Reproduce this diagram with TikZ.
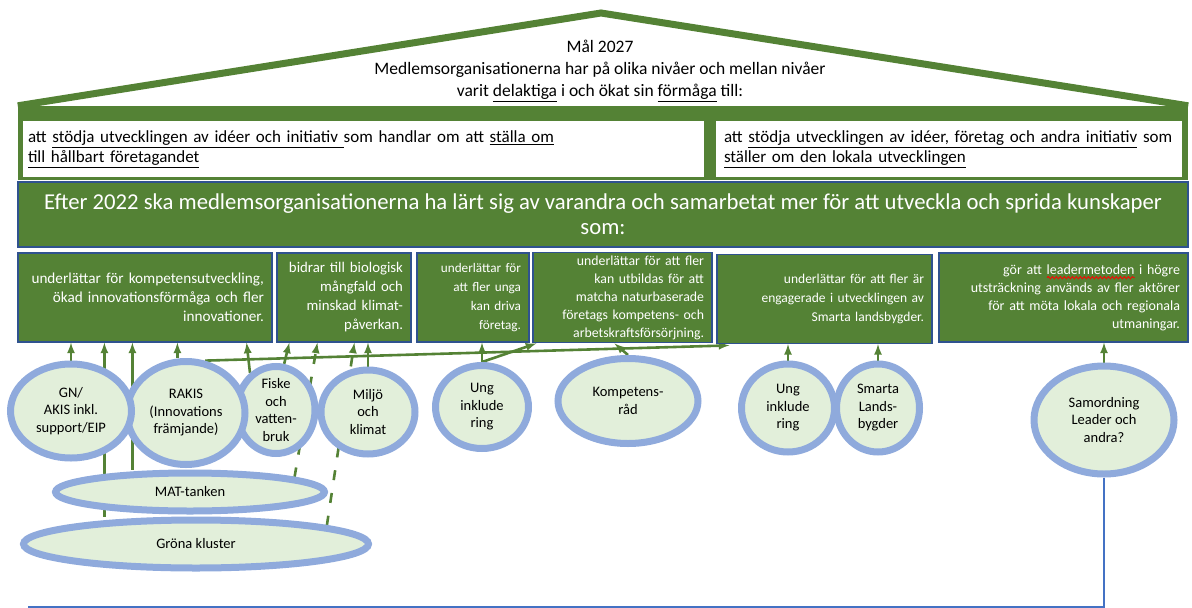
\documentclass[tikz,border=0pt]{standalone}
\usepackage{fontspec}
\setmainfont{Carlito}
\usepackage{tikz}
\usetikzlibrary{shapes.geometric}
\usetikzlibrary{arrows}
\usetikzlibrary{decorations.pathmorphing}
\definecolor{leafgreen}{RGB}{84,130,53}
\definecolor{edgeblue}{RGB}{47,82,143}
\definecolor{ringblue}{RGB}{143,170,220}
\definecolor{palegreen}{RGB}{226,239,218}
\definecolor{lineblue}{RGB}{68,114,196}
\pgfdeclarelayer{bg}
\pgfsetlayers{bg,main}
\newcommand\ul[1]{\underline{#1}}
\newcommand\redwave[1]{\setbox0\hbox{#1}\rlap{\tikz[baseline=0pt]\draw[red, line width=0.8pt, decorate, decoration={snake, amplitude=1.2pt, segment length=4pt}] (0pt,-3.5pt) -- (\wd0,-3.5pt);}\box0\relax}

\begin{document}
\begin{tikzpicture}
		[x=1pt, y=-1pt,
		 goal/.style = {fill=white, align=left, inner xsep=5pt, minimum height=56pt, font=\fontsize{17}{20}\selectfont},
		 effect/.style = {draw=edgeblue, line width=1.2pt, fill=leafgreen, text=white, align=right, inner xsep=8pt, minimum height=89pt, text width=#1, font=\fontsize{13.5}{19}\selectfont},
		 actor/.style = {ellipse, draw=ringblue, line width=7pt, fill=palegreen, inner sep=-14pt, align=center, font=\fontsize{14.5}{17.5}\selectfont},
		 arr/.style = {draw=leafgreen, line width=2.6pt, -latex},
		 dashedarr/.style = {arr, dash pattern=on 10pt off 13pt}]
        \useasboundingbox (0,0) rectangle (1192,608);

        \node[fill=leafgreen, minimum width=1170pt, minimum height=74pt, inner sep=0pt] (roofbase) at (603,143) {};
        \coordinate (apex) at (601,13);
        \draw[leafgreen, line width=7pt, line join=miter] (roofbase.north west) -- (apex) -- (roofbase.north east);
        \node[goal, text width=671pt] (goalL) at (363.5,149) {att \ul{stödja utvecklingen av idéer och initiativ }som handlar om att \ul{ställa om}\\ \ul{till hållbart företagandet}};
        \node[goal, inner xsep=8pt, text width=450pt] (goalR) at (949,149) {att \ul{stödja utvecklingen av idéer, företag och andra initiativ} som\\ \ul{ställer om den lokala utvecklingen}};
        \node[align=center, font=\fontsize{17.5}{22}\selectfont] (title) at (600,71) {Mål 2027\\ Medlemsorganisationerna har på olika nivåer och mellan nivåer\\ varit \ul{delaktiga} i och ökat sin \ul{förmåga} till:};

        \node[draw=edgeblue, line width=1.2pt, fill=leafgreen, text=white, align=center, minimum width=1170pt, minimum height=65pt, font=\fontsize{22.7}{25}\selectfont] (learn) at (603,214.5) {Efter 2022 ska medlemsorganisationerna ha lärt sig av varandra och samarbetat mer för att utveckla och sprida kunskaper\\ som:};

        \node[effect=238pt, font=\fontsize{15.2}{19}\selectfont] (b1) at (145,297.5) {underlättar för kompetensutveckling,\\ ökad innovationsförmåga och fler\\ innovationer.};
        \node[effect=118pt, font=\fontsize{14.8}{19}\selectfont] (b2) at (344,297.5) {bidrar till biologisk\\ mångfald och\\ minskad klimat-\\ påverkan.};
        \node[effect=96pt, font=\fontsize{13.2}{19}\selectfont] (b3) at (473,297.5) {underlättar för\\ att fler unga\\ kan driva\\ företag.};
        \node[effect=163pt, font=\fontsize{13.8}{18}\selectfont] (b4) at (622.5,297.5) {underlättar för att fler\\ kan utbildas för att\\ matcha naturbaserade\\ företags kompetens- och\\ arbetskraftsförsörjning.};
        \node[effect=199pt] (b5) at (824.5,299) {underlättar för att fler är\\ engagerade i utvecklingen av\\ Smarta landsbygder.};
        \node[effect=233pt, font=\fontsize{14}{18}\selectfont] (b6) at (1063.5,297.5) {gör att \redwave{leadermetoden} i högre\\ utsträckning används av fler aktörer\\ för att möta lokala och regionala\\ utmaningar.};

        \node[actor, minimum width=78pt, minimum height=87pt] (fiske) at (276,410) {Fiske\\ och\\ vatten-\\ bruk};
        \node[actor, minimum width=118pt, minimum height=103pt] (rakis) at (186,413) {RAKIS\\ (Innovations\\ främjande)};
        \node[actor, minimum width=121pt, minimum height=94pt] (gn) at (71,411) {GN/\\ AKIS inkl.\\ support/EIP};
        \node[actor, minimum width=94pt, minimum height=84pt] (miljo) at (368,412) {Miljö\\ och\\ klimat};
        \node[actor, minimum width=269pt, minimum height=38pt] (mat) at (190,492) {MAT-tanken};
        \node[actor, minimum width=345pt, minimum height=48pt] (gron) at (196,544) {Gröna kluster};
        \node[actor, minimum width=93pt, minimum height=83pt] (ung1) at (482,407) {Ung\\ inklude\\ ring};
        \node[actor, minimum width=140pt, minimum height=85pt] (komp) at (628,401) {Kompetens-\\ råd};
        \node[actor, minimum width=93pt, minimum height=88pt] (ung2) at (788,408) {Ung\\ inklude\\ ring};
        \node[actor, minimum width=83pt, minimum height=88pt] (smarta) at (878,408) {Smarta\\ Lands-\\ bygder};
        \node[actor, minimum width=140pt, minimum height=108pt] (samord) at (1104,420) {Samordning\\ Leader och\\ andra?};

        \coordinate (b1s2) at ([xshift=87pt]b1.south west);
        \coordinate (b1s3) at ([xshift=115pt]b1.south west);
        \coordinate (b1s4) at ([xshift=160pt]b1.south west);
        \coordinate (b1s5) at ([xshift=-26pt]b1.south east);
        \coordinate (b2s1) at ([xshift=13pt]b2.south west);
        \coordinate (b2s2) at ([xshift=41pt]b2.south west);
        \coordinate (b2s3) at ([xshift=78pt]b2.south west);
        \coordinate (b4s1) at ([xshift=4pt]b4.south west);
        \coordinate (b4s2) at ([xshift=-8pt]b4.south);
        \coordinate (b5s1) at ([shift={(13pt,-2pt)}]b5.south west |- b4.south);
        \coordinate (corner) at (28,606.5);

        \begin{pgfonlayer}{bg}
        \draw[arr] (gn.north) -- (gn.north |- b1.south);
        \draw[arr] (b1s2 |- gron.north) -- (b1s2);
        \draw[arr] (b1s3 |- mat.north) -- (b1s3);
        \draw[arr] (b1s4 |- rakis.north) -- (b1s4);
        \draw[arr] (fiske.125) -- (b1s5);
        \draw[arr] (fiske.80) -- (b2s1);
        \draw[dashedarr] (mat.8) -- (b2s2);
        \draw[dashedarr] (gron.8) -- (b2s3);
        \draw[arr] (miljo.north) -- (miljo.north |- b2.south);
        \draw[arr] (rakis.70) -- (b5s1);
        \draw[arr] (ung1.north) -- (ung1.north |- b3.south);
        \draw[arr] (ung1.north) -- (b4s1);
        \draw[arr] (komp.north) -- (b4s2);
        \draw[arr] (ung2.north) -- (ung2.north |- b5.south);
        \draw[arr] (smarta.north) -- (smarta.north |- b5.south);
        \draw[arr] (samord.north) -- (samord.north |- b6.south);
        \end{pgfonlayer}
        \draw[lineblue, line width=2pt] (samord.south) |- (corner);
	\end{tikzpicture}
\end{document}
